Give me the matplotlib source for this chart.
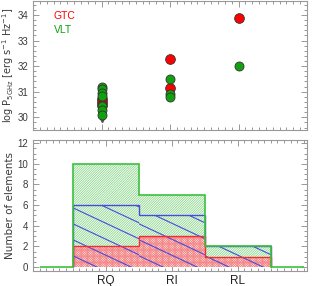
import numpy as np
import matplotlib
matplotlib.use("Agg")
import matplotlib.pyplot as plt
from matplotlib.ticker import MultipleLocator

# radio luminosities, log P_5GHz
rq_gtc = [30.7, 30.6, 30.5]
rq_vlt = [31.2, 31.1, 30.95, 30.85, 30.45, 30.3, 30.1]
rq_limit = [29.88]
ri_gtc = [32.28, 31.15]
ri_vlt = [31.5, 30.93, 30.8]
rl_gtc = [33.87]
rl_vlt = [32.0]

# histogram counts per class
classes = ["RQ", "RI", "RL"]
n_total = [10, 7, 2]
n_blue = [6, 5, 2]
n_red = [2, 3, 1]

plt.rcParams['font.family'] = ['Liberation Sans', 'DejaVu Sans']
plt.rcParams['hatch.linewidth'] = 0.6
txt = '#3a3a3a'
green = '#3cc03c'
green_h = '#8cd88c'
red = '#f03030'
red_h = '#f58a8a'
blue = '#4a4ae0'

fig = plt.figure(figsize=(3.12, 2.86), dpi=100)
ax1 = fig.add_axes([0.106, 0.545, 0.878, 0.452])
ax2 = fig.add_axes([0.106, 0.052, 0.878, 0.458])

def style(ax):
    ax.tick_params(which='both', direction='in', top=True, right=True,
                   colors='#888888', labelcolor=txt, labelsize=7, width=0.6)
    ax.tick_params(which='major', length=4)
    ax.tick_params(which='minor', length=2)
    for s in ax.spines.values():
        s.set_color('#999999')
        s.set_linewidth(0.8)

# upper panel
x = [1, 2, 3]
ms = 7
for xi, vals in zip(x, [rq_gtc, ri_gtc, rl_gtc]):
    ax1.plot([xi] * len(vals), vals, 'o', color='red', mec='#333333', mew=0.6, ms=ms, zorder=3)
for xi, vals in zip(x, [rq_vlt, ri_vlt, rl_vlt]):
    ax1.plot([xi] * len(vals), vals, 'o', color='#10a010', mec='#333333', mew=0.6, ms=ms - 0.5, zorder=4)
ax1.plot([1] * len(rq_limit), rq_limit, 'v', color='#555555', ms=3, zorder=2)
ax1.set_xlim(0, 4)
ax1.set_ylim(29.5, 34.55)
ax1.xaxis.set_major_locator(MultipleLocator(1))
ax1.xaxis.set_minor_locator(MultipleLocator(0.1))
ax1.yaxis.set_major_locator(MultipleLocator(1))
ax1.yaxis.set_minor_locator(MultipleLocator(0.2))
ax1.set_xticklabels([])
ax1.set_ylabel(r'log P$_{\rm 5GHz}$ [erg s$^{-1}$ Hz$^{-1}$]', fontsize=7, color=txt,
               family='DejaVu Sans')
ax1.yaxis.set_label_coords(-0.062, 0.5)
ax1.text(0.075, 0.885, 'GTC', color='red', fontsize=7.5, va='center', transform=ax1.transAxes)
ax1.text(0.075, 0.775, 'VLT', color='#10a010', fontsize=7.5, va='center', transform=ax1.transAxes)
style(ax1)

# lower panel
edges = np.arange(len(classes) + 1) + 0.5
ax2.bar(x, n_total, width=1, color='white', edgecolor=green_h, hatch='/' * 14, lw=0, zorder=1)
ax2.bar(x, n_red, width=1, color='white', edgecolor=red_h, hatch='x' * 14, lw=0, zorder=2)
ax2.stairs([0] + n_total + [0], np.concatenate([[0], edges, [4]]), color=green, lw=1.2, zorder=5)
ax2.stairs(n_blue, edges, color=blue, lw=1.0, zorder=4)
ax2.stairs(n_red, edges, color=red, lw=1.0, zorder=4)

# sparse blue hatch, clipped to the blue bars
blue_bars = ax2.bar(x, n_blue, width=1, color='none', lw=0, zorder=3)
slope = -3.0
offs = np.arange(-2, 20, 1.55)
for b in blue_bars:
    x0 = b.get_x()
    xs = np.array([x0, x0 + 1])
    for o in offs:
        ln, = ax2.plot(xs, o + slope * (xs - x0), color=blue, lw=0.8, zorder=3)
        ln.set_clip_path(b)

ax2.set_xlim(-0.1, 4.05)
ax2.set_ylim(-0.4, 12.3)
ax2.set_xticks(x)
ax2.set_xticklabels(classes)
ax2.xaxis.set_minor_locator(MultipleLocator(0.1))
ax2.yaxis.set_major_locator(MultipleLocator(2))
ax2.yaxis.set_minor_locator(MultipleLocator(0.5))
ax2.set_ylabel('Number of elements', fontsize=7.5, color=txt, family='DejaVu Sans')
ax2.yaxis.set_label_coords(-0.065, 0.5)
style(ax2)
ax2.tick_params(axis='x', which='major', pad=3, labelsize=8.5, labelcolor='#222222')

fig.savefig('out.png', dpi=100)
